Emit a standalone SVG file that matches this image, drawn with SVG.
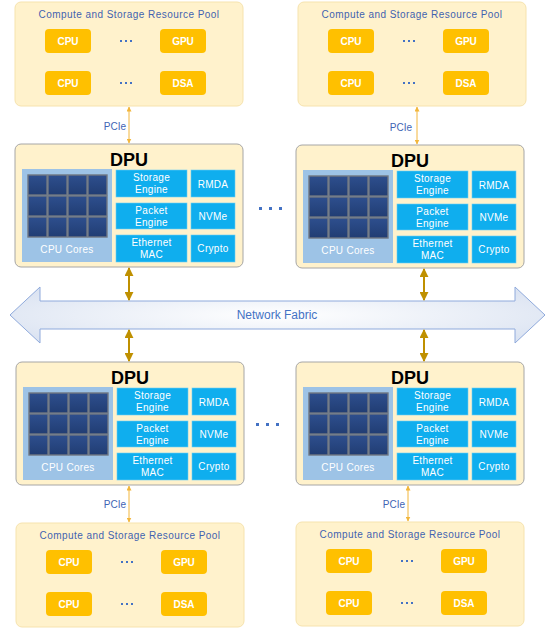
<svg xmlns="http://www.w3.org/2000/svg" width="554" height="631" viewBox="0 0 554 631">
<defs>
<style>
text{font-family:"Liberation Sans",Arial,sans-serif}
.pool{fill:#FFF2CC;stroke:#F6E3AE;stroke-width:1}
.ptitle{font-size:10px;fill:#3F62B0;text-anchor:middle;letter-spacing:0.45px}
.res{fill:#FFC000}
.rtxt{font-size:10px;font-weight:bold;fill:#fff;text-anchor:middle}
.dot{fill:#4472C4}
.dpu{fill:#FFF2CC;stroke:#A6A6A6;stroke-width:1}
.dtitle{font-size:18px;font-weight:bold;fill:#000;text-anchor:middle}
.cores{fill:#9DC3E6}
.cell{fill:url(#cellg);stroke:#6F7782;stroke-width:1.4}
.eng{fill:#0FAEEE;stroke:#6CCDF3;stroke-width:0.6}
.etxt{font-size:10px;fill:#fff;text-anchor:middle;letter-spacing:0.3px}
.lbl{font-size:10px;fill:#4164B4;text-anchor:end}
.pcie{stroke:#F2B63C;stroke-width:1;fill:none;marker-start:url(#pa);marker-end:url(#pa)}
.fab{stroke:#BF9000;stroke-width:2;fill:none;marker-start:url(#fa);marker-end:url(#fa)}
</style>
<linearGradient id="cellg" x1="0" y1="0" x2="0" y2="1">
<stop offset="0" stop-color="#2E4F8E"/><stop offset="1" stop-color="#213D73"/>
</linearGradient>
<radialGradient id="fabg" cx="0.5" cy="0.5" r="0.6">
<stop offset="0" stop-color="#FFFFFF"/><stop offset="1" stop-color="#DCE4F2"/>
</radialGradient>
<marker id="pa" viewBox="0 0 10 10" refX="9" refY="5" markerWidth="5" markerHeight="5" orient="auto-start-reverse" markerUnits="userSpaceOnUse"><path d="M0,0 L10,5 L0,10 z" fill="#F2B63C"/></marker>
<marker id="fa" viewBox="0 0 10 10" refX="9" refY="5" markerWidth="9" markerHeight="9" orient="auto-start-reverse" markerUnits="userSpaceOnUse"><path d="M0,0 L10,5 L0,10 z" fill="#BF9000"/></marker>
<g id="poolT">
<rect class="pool" x="0" y="0" width="228" height="104" rx="6"/>
<text class="ptitle" x="114" y="15.5">Compute and Storage Resource Pool</text>
<rect class="res" x="30" y="27" width="46" height="24" rx="4"/>
<text class="rtxt" x="53" y="43">CPU</text>
<rect class="res" x="145" y="27" width="46" height="24" rx="4"/>
<text class="rtxt" x="168" y="43">GPU</text>
<rect class="res" x="30" y="69" width="46" height="24" rx="4"/>
<text class="rtxt" x="53" y="85">CPU</text>
<rect class="res" x="145" y="69" width="46" height="24" rx="4"/>
<text class="rtxt" x="168" y="85">DSA</text>
<rect class="dot" x="105" y="38" width="2" height="2"/><rect class="dot" x="110" y="38" width="2" height="2"/><rect class="dot" x="115" y="38" width="2" height="2"/>
<rect class="dot" x="105" y="80" width="2" height="2"/><rect class="dot" x="110" y="80" width="2" height="2"/><rect class="dot" x="115" y="80" width="2" height="2"/>
</g>
<g id="dpuT">
<rect class="dpu" x="0" y="0" width="228" height="123" rx="6"/>
<text class="dtitle" x="114" y="22">DPU</text>
<rect class="cores" x="7" y="25" width="90" height="93"/>
<rect class="cell" x="13" y="31" width="19" height="20"/><rect class="cell" x="33" y="31" width="19" height="20"/><rect class="cell" x="53" y="31" width="19" height="20"/><rect class="cell" x="73" y="31" width="19" height="20"/>
<rect class="cell" x="13" y="52" width="19" height="20"/><rect class="cell" x="33" y="52" width="19" height="20"/><rect class="cell" x="53" y="52" width="19" height="20"/><rect class="cell" x="73" y="52" width="19" height="20"/>
<rect class="cell" x="13" y="73" width="19" height="20"/><rect class="cell" x="33" y="73" width="19" height="20"/><rect class="cell" x="53" y="73" width="19" height="20"/><rect class="cell" x="73" y="73" width="19" height="20"/>
<text class="etxt" x="52" y="109">CPU Cores</text>
<rect class="eng" x="101" y="26" width="71" height="27"/>
<text class="etxt" x="136.5" y="37">Storage</text><text class="etxt" x="136.5" y="49">Engine</text>
<rect class="eng" x="101" y="59" width="71" height="26"/>
<text class="etxt" x="136.5" y="70">Packet</text><text class="etxt" x="136.5" y="82">Engine</text>
<rect class="eng" x="101" y="91" width="71" height="27"/>
<text class="etxt" x="136.5" y="102">Ethernet</text><text class="etxt" x="136.5" y="114">MAC</text>
<rect class="eng" x="176" y="26" width="44" height="27"/>
<text class="etxt" x="198" y="43.5">RMDA</text>
<rect class="eng" x="176" y="59" width="44" height="26"/>
<text class="etxt" x="198" y="76">NVMe</text>
<rect class="eng" x="176" y="91" width="44" height="27"/>
<text class="etxt" x="198" y="108">Crypto</text>
</g>
</defs>

<g id="pool-top-left"><use href="#poolT" x="15" y="2"/></g>
<g id="pool-top-right"><use href="#poolT" x="298" y="2"/></g>
<g id="pool-bottom-left"><use href="#poolT" x="16" y="523"/></g>
<g id="pool-bottom-right"><use href="#poolT" x="296" y="522"/></g>

<g id="dpu-top-left"><use href="#dpuT" x="15" y="144"/></g>
<g id="dpu-top-right"><use href="#dpuT" x="296" y="145"/></g>
<g id="dpu-bottom-left"><use href="#dpuT" x="16" y="362"/></g>
<g id="dpu-bottom-right"><use href="#dpuT" x="296" y="362"/></g>

<g id="network-fabric">
<polygon points="10,315 40,287 40,301 515,301 515,287 545,315 515,343 515,329 40,329 40,343" fill="url(#fabg)" stroke="#8FAADC" stroke-width="1"/>
<text x="277" y="319" font-size="12" fill="#4472C4" text-anchor="middle">Network Fabric</text>
</g>

<g id="ellipses">
<rect class="dot" x="259" y="207" width="3" height="3"/><rect class="dot" x="269" y="207" width="3" height="3"/><rect class="dot" x="279" y="207" width="3" height="3"/>
<rect class="dot" x="256" y="423" width="3" height="3"/><rect class="dot" x="266" y="423" width="3" height="3"/><rect class="dot" x="276" y="423" width="3" height="3"/>
</g>

<g id="connectors">
<line class="pcie" x1="129" y1="107" x2="129" y2="143"/>
<text class="lbl" x="126" y="130">PCIe</text>
<line class="pcie" x1="417" y1="107" x2="417" y2="144"/>
<text class="lbl" x="412" y="131">PCIe</text>
<line class="pcie" x1="129" y1="486" x2="129" y2="522"/>
<text class="lbl" x="126" y="508">PCIe</text>
<line class="pcie" x1="408" y1="486" x2="408" y2="521"/>
<text class="lbl" x="405" y="508">PCIe</text>
<line class="fab" x1="129" y1="268" x2="129" y2="300"/>
<line class="fab" x1="424" y1="269" x2="424" y2="300"/>
<line class="fab" x1="129" y1="330" x2="129" y2="361"/>
<line class="fab" x1="424" y1="330" x2="424" y2="361"/>
</g>
</svg>
